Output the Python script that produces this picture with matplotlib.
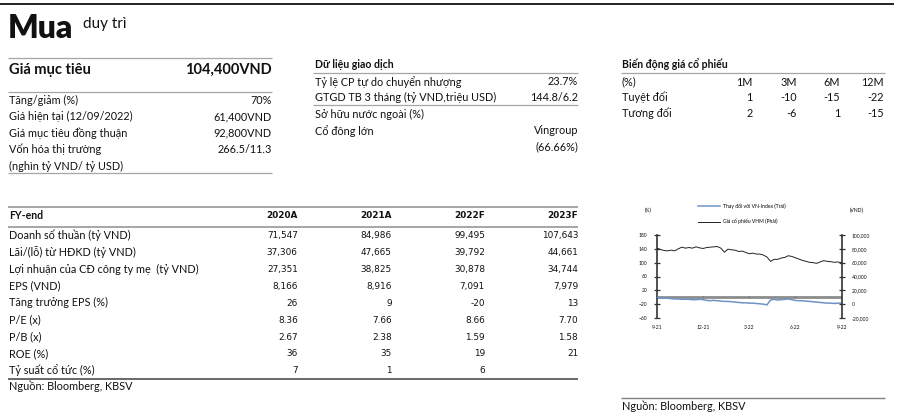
import matplotlib
matplotlib.use("Agg")
import matplotlib.pyplot as plt
import pandas as pd
from matplotlib.lines import Line2D
from matplotlib.ticker import FuncFormatter

FONT = ["Lato", "DejaVu Sans"]
plt.rcParams["font.family"] = FONT

# ---------------------------------------------------------------------------
# data
# ---------------------------------------------------------------------------
rating = "Mua"
rating_note = "duy trì"
target_label = "Giá mục tiêu"
target_value = "104,400VND"

summary_labels = ["Tăng/giảm (%)", "Giá hiện tại (12/09/2022)",
                  "Giá mục tiêu đồng thuận", "Vốn hóa thị trường",
                  "(nghìn tỷ VND/ tỷ USD)"]
summary_values = ["70%", "61,400VND", "92,800VND", "266.5/11.3", ""]

trade_title = "Dữ liệu giao dịch"
trade_labels = ["Tỷ lệ CP tự do chuyển nhượng", "GTGD TB 3 tháng (tỷ VND,triệu USD)",
                "Sở hữu nước ngoài (%)", "Cổ đông lớn", ""]
trade_values = ["23.7%", "144.8/6.2", "", "Vingroup", "(66.66%)"]

perf_title = "Biến động giá cổ phiếu"
perf_cols = ["1M", "3M", "6M", "12M"]
perf_rows = ["Tuyệt đối", "Tương đối"]
perf_absolute = [1, -10, -15, -22]
perf_relative = [2, -6, 1, -15]

fy_cols = ["2020A", "2021A", "2022F", "2023F"]
fy_rows = ["Doanh số thuần (tỷ VND)", "Lãi/(lỗ) từ HĐKD (tỷ VND)",
           "Lợi nhuận của CĐ công ty mẹ  (tỷ VND)", "EPS (VND)",
           "Tăng trưởng EPS (%)", "P/E (x)", "P/B (x)", "ROE (%)",
           "Tỷ suất cổ tức (%)"]
fy_2020 = ["71,547", "37,306", "27,351", "8,166", "26", "8.36", "2.67", "36", "7"]
fy_2021 = ["84,986", "47,665", "38,825", "8,916", "9", "7.66", "2.38", "35", "1"]
fy_2022 = ["99,495", "39,792", "30,878", "7,091", "-20", "8.66", "1.59", "19", "6"]
fy_2023 = ["107,643", "44,661", "34,744", "7,979", "13", "7.70", "1.58", "21", ""]

source = "Nguồn: Bloomberg, KBSV"

# weekly readings of the small chart, 9-21 .. 9-22
weeks = pd.date_range("2021-09-12", periods=53, freq="7D")
vhm_price = [80950, 79050, 77600, 77100, 78100, 77100, 80000, 82400, 81000, 81900,
             81000, 82900, 81400, 80500, 81900, 82400, 82900, 83300, 81000, 75200,
             79500, 78600, 78100, 76200, 76700, 74800, 72900, 73800, 72400, 72400,
             71000, 68100, 61900, 64800, 64800, 66700, 67600, 70000, 69000, 67100,
             65200, 63300, 61900, 60500, 60000, 59000, 61000, 62900, 61900, 61400,
             60500, 61000, 60000]
vs_vnindex = [0, -1, -2, -3, -4, -5, -5, -6, -6, -6,
              -7, -7, -6, -7, -9, -10, -9, -10, -11, -12,
              -12, -13, -14, -15, -16, -16, -17, -17, -18, -19,
              -20, -22, -8, -6, -8, -7, -6, -5, -7, -9,
              -10, -10, -11, -12, -13, -14, -15, -16, -17, -17,
              -18, -17, -17]
x_ticks = pd.to_datetime(["2021-09-12", "2021-12-12", "2022-03-12",
                          "2022-06-12", "2022-09-12"])
x_labels = ["9-21", "12-21", "3-22", "6-22", "9-22"]

W, H = 897, 417
fig = plt.figure(figsize=(W / 100, H / 100), dpi=100)

# page overlay in pixel coordinates
pg = fig.add_axes([0, 0, 1, 1])
pg.set_xlim(0, W)
pg.set_ylim(H, 0)
pg.axis("off")

BODY = 7.8
NUM = 6.4
GREY = "#a6a6a6"


def txt(x, y, s, size=BODY, ha="left", weight="normal", family=None):
    pg.text(x, y, s, fontsize=size, ha=ha, va="center", weight=weight,
            family=family or FONT, color="#111111")


def hline(y, x0, x1, color=GREY, lw=0.9):
    pg.plot([x0, x1], [y, y], color=color, lw=lw, solid_capstyle="butt")


# top rule + rating
hline(4, 0, 894, color="#111111", lw=1.3)
pg.text(8, 38, rating, fontsize=23, weight="heavy", ha="left", va="baseline",
        family=FONT, color="#111111")
txt(83, 24, rating_note, size=11)

# target block
hline(58, 8, 272)
txt(9, 70, target_label, size=10.5, weight="bold")
txt(272, 70, target_value, size=10.5, weight="bold", ha="right")
hline(92, 8, 272)
for i, (lab, val) in enumerate(zip(summary_labels, summary_values)):
    y = 100 + i * 16.5
    txt(9, y, lab)
    if val:
        txt(272, y, val, ha="right")
hline(172.5, 8, 272)

# trading data block
txt(315, 64, trade_title, size=7.6, weight="bold")
hline(72.7, 313, 578)
trade_y = [81.7, 97.3, 114, 130.7, 146.7]
for lab, val, y in zip(trade_labels, trade_values, trade_y):
    if lab:
        txt(315, y, lab)
    if val:
        txt(578, y, val, ha="right")
hline(105, 313, 578)

# price performance block
txt(622, 64, perf_title, size=7.6, weight="bold")
hline(72.7, 621, 885)
col_x = [752.7, 796.7, 840, 884]
txt(622, 82, "(%)")
for cx, c in zip(col_x, perf_cols):
    txt(cx, 82, c, ha="right")
for y, lab, vals in [(97.3, perf_rows[0], perf_absolute),
                     (113.3, perf_rows[1], perf_relative)]:
    txt(622, y, lab)
    for cx, v in zip(col_x, vals):
        txt(cx, y, str(v), ha="right")

# financial table
hline(206.7, 8, 578, lw=1.4)
txt(9, 215, "FY-end", weight="bold", size=7.6)
fy_x = [297.7, 391.7, 485, 578.3]
for cx, c in zip(fy_x, fy_cols):
    txt(cx, 215.5, c, size=NUM, weight="bold", ha="right", family="DejaVu Sans")
hline(226.7, 8, 578, lw=1.4)
cols = [fy_2020, fy_2021, fy_2022, fy_2023]
for r, lab in enumerate(fy_rows):
    y = 235.2 + r * 16.9
    txt(9, y, lab)
    for cx, col in zip(fy_x, cols):
        if col[r]:
            txt(cx, y + 0.5, col[r], size=NUM, ha="right", family="DejaVu Sans")
hline(379.3, 8, 578, color="#404040", lw=1.1)
txt(9, 386.7, source)

# chart source
hline(398.3, 621, 885, color="#808080", lw=1.0)
txt(622, 406, source)

# ---------------------------------------------------------------------------
# small price chart
# ---------------------------------------------------------------------------
l, r, t, b = 657, 842, 235, 318
ax = fig.add_axes([l / W, 1 - b / H, (r - l) / W, (b - t) / H])
ax.patch.set_alpha(0)
ax2 = ax.twinx()

ax.axhline(0, color="#8c8c8c", lw=2.0, zorder=1)
ax.vlines(x_ticks[1:-1], 0, 4, color="#555555", lw=0.6, zorder=1)
ax.plot(weeks, vs_vnindex, color="#6f93c4", lw=1.1, zorder=3)
ax2.plot(weeks, vhm_price, color="#222222", lw=0.7)

ax.set_xlim(x_ticks[0], x_ticks[-1])
ax.set_ylim(-60, 180)
ax.set_yticks(range(-60, 181, 40))
ax2.set_ylim(-20000, 100000)
ax2.set_yticks(range(-20000, 100001, 20000))
ax2.yaxis.set_major_formatter(FuncFormatter(lambda v, p: f"{int(v):,}"))
ax.set_xticks(x_ticks)
ax.set_xticklabels(x_labels)

for a in (ax, ax2):
    for side in ("top", "bottom"):
        a.spines[side].set_visible(False)
    a.spines["left"].set_visible(a is ax)
    a.spines["right"].set_visible(a is ax2)
    for s in ("left", "right"):
        a.spines[s].set_color("#333333")
        a.spines[s].set_linewidth(1.2)
    a.tick_params(axis="y", direction="inout", length=4, width=0.9,
                  labelsize=3.6, pad=5, colors="#333333", labelcolor="#111111")
ax.tick_params(axis="x", length=0, labelsize=3.6, pad=5, labelcolor="#111111")
ax2.tick_params(axis="x", length=0)

fig.text(648 / W, 1 - 210 / H, "(%)", fontsize=3.6, ha="center", va="center")
fig.text(857 / W, 1 - 210 / H, "(VND)", fontsize=3.6, ha="center", va="center")

handles = [Line2D([], [], color="#6f93c4", lw=1.1),
           Line2D([], [], color="#222222", lw=0.7)]
fig.legend(handles, ["Thay đổi với VN-Index (Trái)", "Giá cổ phiếu VHM (Phải)"],
           loc="upper left", bbox_to_anchor=(698 / W, 1 - 203 / H),
           frameon=False, fontsize=3.6, handlelength=4.4, handletextpad=0.6,
           labelspacing=2.0, borderpad=0, borderaxespad=0)

fig.savefig("out.png", dpi=100)
